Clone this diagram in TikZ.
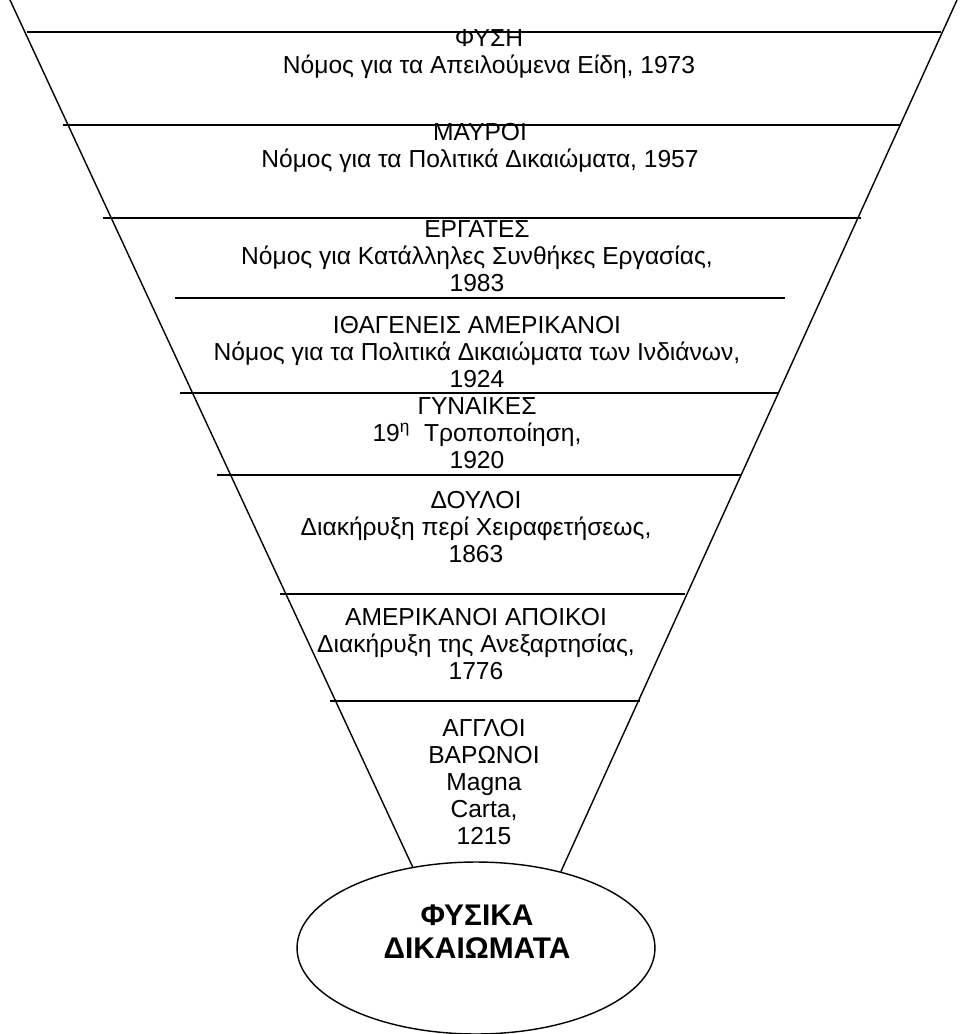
\documentclass[tikz,border=0pt]{standalone}
\usepackage{fontspec}
\setmainfont{Liberation Sans}
\usetikzlibrary{shapes.geometric}
\begin{document}
\begin{tikzpicture}[x=0.02cm, y=-0.02cm, line join=round,
  rim/.style={line width=0.8pt},
  layer/.style={align=center, inner sep=0pt, font=\fontsize{14}{15.3}\selectfont},
  core/.style={align=center, inner sep=0pt, font=\fontsize{17}{18.8}\selectfont\bfseries}]
\useasboundingbox (0,0) rectangle (966,1034);
\coordinate (TL) at (10,0);
\coordinate (TR) at (957,0);
\node[ellipse, draw, rim, fill=white, minimum width=7.16cm, minimum height=3.44cm] (rights) at (476,948) {};
\draw[rim] (TL)--(rights.128);
\draw[rim] (TR)--(rights.42);
% layer borders
\foreach \y/\xa/\xb in {32/27/941, 125/63/901, 218/103/861, 298/175/785,
                        393/180/778, 475/217/741, 594/280/685, 701/330/640}
  \draw[rim] (\xa,\y)--(\xb,\y);
\node[layer] (nature) at (489,54) {ΦΥΣΗ\\Νόμος για τα Απειλούμενα Είδη, 1973};
\node[layer] (blacks) at (480,148) {ΜΑΥΡΟΙ\\Νόμος για τα Πολιτικά Δικαιώματα, 1957};
\node[layer] (workers) at (477,256) {ΕΡΓΑΤΕΣ\\Νόμος για Κατάλληλες Συνθήκες Εργασίας,\\1983};
\node[layer] (natives) at (477,352) {ΙΘΑΓΕΝΕΙΣ ΑΜΕΡΙΚΑΝΟΙ\\Νόμος για τα Πολιτικά Δικαιώματα των Ινδιάνων,\\1924};
\node[layer] (women) at (477,433) {ΓΥΝΑΙΚΕΣ\\19\textsuperscript{η}\ \ Τροποποίηση,\\1920};
\node[layer] (slaves) at (476,527) {ΔΟΥΛΟΙ\\Διακήρυξη περί Χειραφετήσεως,\\1863};
\node[layer] (colonists) at (476,644) {ΑΜΕΡΙΚΑΝΟΙ ΑΠΟΙΚΟΙ\\Διακήρυξη της Ανεξαρτησίας,\\1776};
\node[layer] (barons) at (484,782) {ΑΓΓΛΟΙ\\ΒΑΡΩΝΟΙ\\Magna\\Carta,\\1215};
\node[core] (rightslabel) at (477,932) {ΦΥΣΙΚΑ\\ΔΙΚΑΙΩΜΑΤΑ};
\end{tikzpicture}
\end{document}
